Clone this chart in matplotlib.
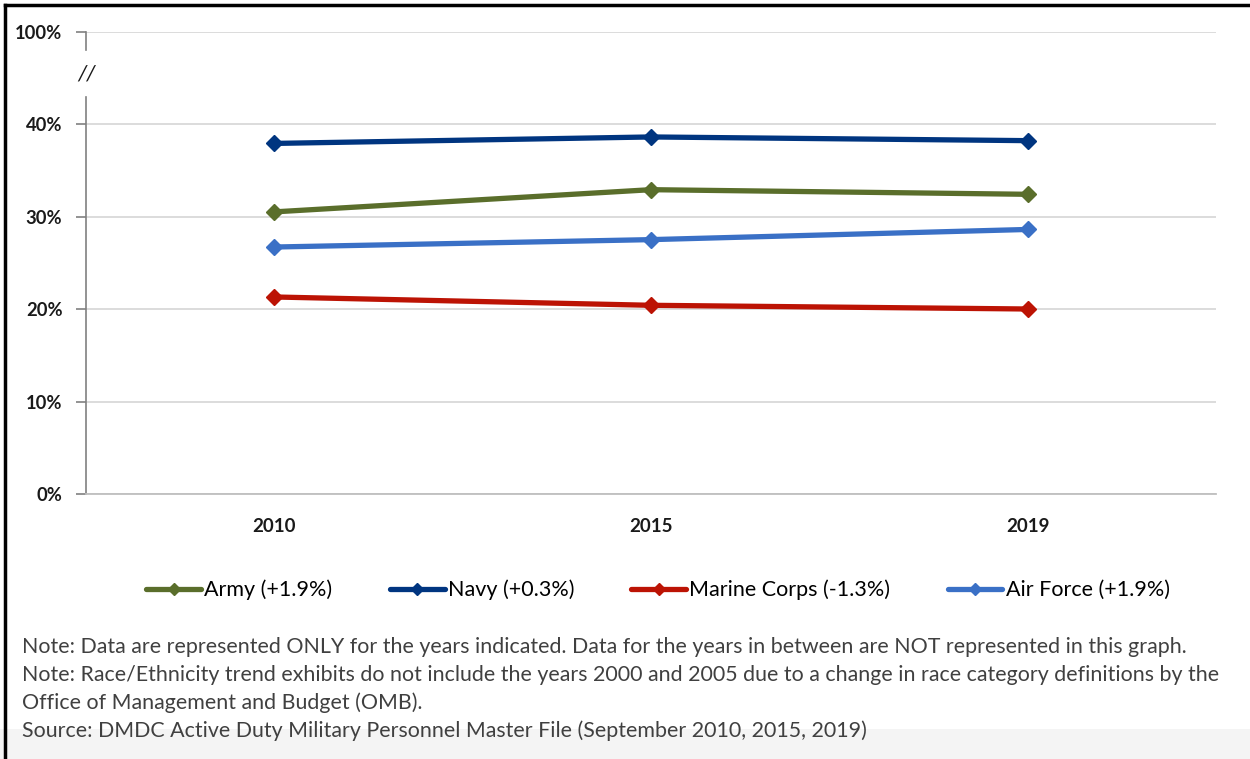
import matplotlib
matplotlib.use("Agg")
import matplotlib.pyplot as plt
from matplotlib.lines import Line2D
from matplotlib.patches import Rectangle

years = ["2010", "2015", "2019"]
army = [30.5, 32.9, 32.4]
navy = [37.9, 38.6, 38.2]
marine = [21.3, 20.4, 20.0]
airforce = [26.7, 27.5, 28.6]
series_labels = ["Army (+1.9%)", "Navy (+0.3%)", "Marine Corps (-1.3%)", "Air Force (+1.9%)"]
colors = ["#5A6E2B", "#003580", "#BC1304", "#3A70C6"]
ytick_pos = [0, 10, 20, 30, 40, 50]
ytick_labels = ["0%", "10%", "20%", "30%", "40%", "100%"]
notes = [
    "Note: Data are represented ONLY for the years indicated. Data for the years in between are NOT represented in this graph.",
    "Note: Race/Ethnicity trend exhibits do not include the years 2000 and 2005 due to a change in race category definitions by the",
    "Office of Management and Budget (OMB).",
    "Source: DMDC Active Duty Military Personnel Master File (September 2010, 2015, 2019)",
]

plt.rcParams['font.family'] = ['Lato', 'DejaVu Sans']
W, H = 1250, 759
fig = plt.figure(figsize=(12.5, 7.59), dpi=100)
fig.patch.set_facecolor("white")

ax = fig.add_axes([86 / W, 1 - 494 / H, (1216 - 86) / W, (494 - 31.5) / H])
x = list(range(len(years)))
for vals, c, lab in zip([army, navy, marine, airforce], colors, series_labels):
    ax.plot(x, vals, color=c, lw=3.8, marker="D", ms=8, mfc=c, mec=c, label=lab,
            solid_capstyle="round", solid_joinstyle="round", zorder=3)

ax.set_xlim(-0.5, 2.5)
ax.set_ylim(0, 50)
ax.set_yticks(ytick_pos)
ax.set_yticklabels(ytick_labels, fontsize=13.2, fontweight="bold", color="#1a1a1a")
ax.set_xticks(x)
ax.set_xticklabels(years, fontsize=13.5, fontweight="bold", color="#1a1a1a")
ax.tick_params(axis="y", length=7, width=1.2, color="#808080", pad=10)
ax.tick_params(axis="x", length=0, pad=17)
ax.grid(axis="y", color="#D9D9D9", lw=1.3)
ax.set_axisbelow(True)
for s in ["top", "right", "left"]:
    ax.spines[s].set_visible(False)
ax.spines["bottom"].set_color("#BFBFBF")
ax.spines["bottom"].set_linewidth(1.3)
# broken left axis
ax.plot([-0.5, -0.5], [0, 42.9], color="#808080", lw=1.2, clip_on=False, zorder=2)
ax.plot([-0.5, -0.5], [48.0, 50], color="#808080", lw=1.2, clip_on=False, zorder=2)
ax.text(-0.5, 45.5, "//", ha="center", va="center", fontsize=16, style="italic", color="#1a1a1a")

# legend
handles = [Line2D([0], [0], color=c, lw=3.8, marker="D", ms=6, mfc=c, mec=c, solid_capstyle="round")
           for c in colors]
fig.legend(handles, series_labels, loc="center", bbox_to_anchor=(658 / W, 1 - 590 / H), ncol=4,
           frameon=False, fontsize=15.5, handlelength=2.55, handletextpad=0.15, columnspacing=2.65)

# notes
ys = [647, 675, 703, 731]
for t, yy in zip(notes, ys):
    fig.text(22 / W, 1 - yy / H, t, fontsize=15.4, color="#404040", va="center", ha="left")

# background band and borders
fig.patches.append(Rectangle((0, 0), 1, (759 - 729) / H, transform=fig.transFigure,
                             facecolor="#F4F4F4", edgecolor="none", zorder=-1))
fig.lines.append(Line2D([5 / W, 5 / W], [0, 1 - 5 / H], transform=fig.transFigure, color="black", lw=2.5))
fig.lines.append(Line2D([5 / W, 1], [1 - 5 / H, 1 - 5 / H], transform=fig.transFigure, color="black", lw=2.5))

fig.savefig("out.png", dpi=100)
